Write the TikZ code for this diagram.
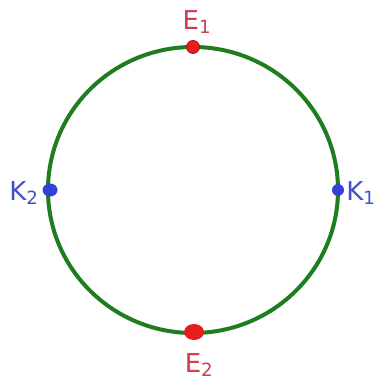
\documentclass[tikz,border=0pt]{standalone}
\usepackage{fontspec}
\setmainfont{DejaVu Sans}
\usetikzlibrary{shapes.geometric}
\definecolor{ringgreen}{RGB}{30,125,30}
\definecolor{elabel}{RGB}{205,60,80}
\definecolor{klabel}{RGB}{70,80,200}
\definecolor{edot}{RGB}{230,30,30}
\definecolor{kdot}{RGB}{50,65,215}
\begin{document}
\begin{tikzpicture}[x=1pt,y=1pt,
  lab/.style={font=\fontsize{26}{30}\selectfont, inner sep=0pt},
  elab/.style={lab, text=elabel},
  klab/.style={lab, text=klabel}]
\useasboundingbox (0,0) rectangle (379,385);
\fill[white] (0,0) rectangle (379,385);
\draw[ringgreen, line width=4pt] (193,195) ellipse [x radius=145, y radius=143];
% points
\node[circle, fill=edot, draw=edot!70!black, line width=0.8pt, minimum size=13pt, inner sep=0pt] (e1) at (193,338) {};
\node[ellipse, fill=edot, minimum width=20pt, minimum height=16pt, inner sep=0pt] (e2) at (194,53) {};
\node[ellipse, fill=kdot, minimum width=15pt, minimum height=13pt, inner sep=0pt] (k2) at (50,195) {};
\node[circle, fill=kdot, minimum size=12pt, inner sep=0pt] (k1) at (338,195) {};
% labels
\node[elab] (le1) at (197,363) {E\textsubscript{1}};
\node[elab] (le2) at (199,20) {E\textsubscript{2}};
\node[klab] (lk2) at (24,192) {K\textsubscript{2}};
\node[klab] (lk1) at (361,192) {K\textsubscript{1}};
\end{tikzpicture}
\end{document}
